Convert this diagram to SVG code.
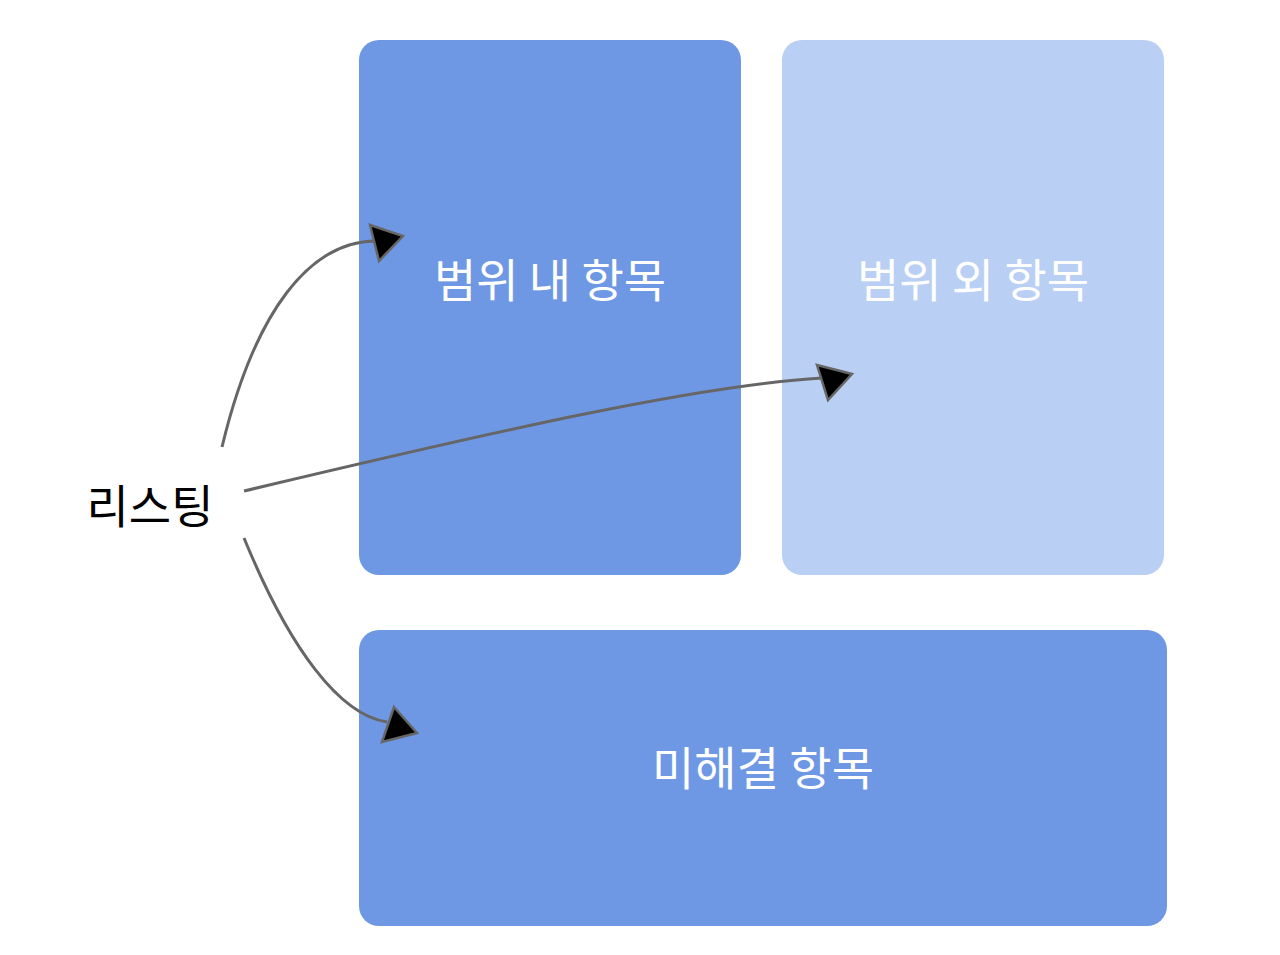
<svg xmlns="http://www.w3.org/2000/svg" width="1280" height="955" viewBox="0 0 1280 955">
<style>
.box{fill:#6f98e4}
.box2{fill:#bacff4}
.lbl{font-family:"Noto Sans CJK KR","Noto Sans",sans-serif;font-size:46px;fill:#ffffff;text-anchor:middle;dominant-baseline:central}
.dark{fill:#000000}
.line{fill:none;stroke:#666666;stroke-width:3}
.head{fill:#000000;stroke:#666666;stroke-width:2.5;stroke-linejoin:miter}
</style>
<rect width="1280" height="955" fill="#ffffff"/>
<g id="in-scope">
<rect class="box" x="359" y="40" width="382" height="535" rx="20"/>
<text class="lbl" x="550" y="277">범위 내 항목</text>
</g>
<g id="out-of-scope">
<rect class="box2" x="782" y="40" width="382" height="535" rx="20"/>
<text class="lbl" x="973" y="277">범위 외 항목</text>
</g>
<g id="unresolved">
<rect class="box" x="359" y="630" width="808" height="296" rx="20"/>
<text class="lbl" x="763" y="765">미해결 항목</text>
</g>
<g id="listing">
<text class="lbl dark" x="150" y="503">리스팅</text>
</g>
<g id="connectors">
<path class="line" d="M222,447 C255,310 310,242 375,241"/>
<polygon class="head" points="370,225 403,236 379,261"/>
<path class="line" d="M244,491 C500,430 700,385 822,378"/>
<polygon class="head" points="817,365 852,374 828,400"/>
<path class="line" d="M244,538 C290,650 340,715 387,722"/>
<polygon class="head" points="394,707 417,733 382,742"/>
</g>
</svg>
